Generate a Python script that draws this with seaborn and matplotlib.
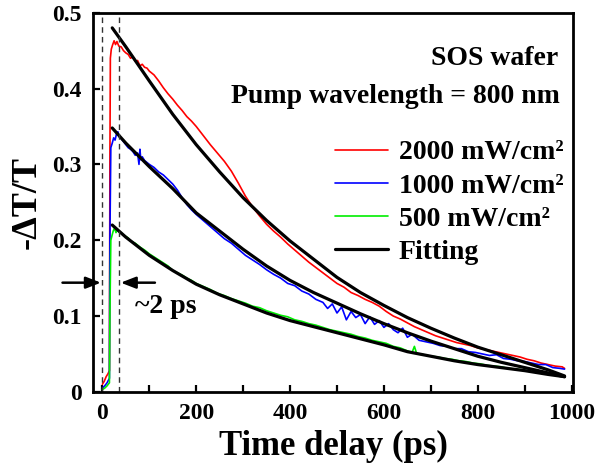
import numpy as np
import pandas as pd
import seaborn as sns
import matplotlib.pyplot as plt
from matplotlib.ticker import MultipleLocator

t_red = [0, 4, 8, 12, 15, 16, 17, 19, 22, 25, 28, 31, 35, 40, 45, 50, 55, 60, 65, 70, 75, 80,
         85, 90, 95, 100, 110, 120, 130, 140, 150, 160, 170, 180, 190, 200, 215, 230, 245,
         260, 275, 290, 305, 320, 335, 350, 365, 380, 395, 410, 425, 440, 455, 470, 485, 500,
         515, 530, 545, 560, 575, 590, 605, 620, 635, 650, 665, 680, 695, 710, 725, 740, 755,
         770, 785, 800, 815, 830, 845, 860, 875, 890, 905, 920, 935, 950, 965, 980, 985]
v_red = [0.010, 0.014, 0.020, 0.024, 0.028, 0.300, 0.440, 0.452, 0.458, 0.463, 0.458, 0.462,
         0.456, 0.455, 0.450, 0.447, 0.445, 0.440, 0.442, 0.436, 0.437, 0.430, 0.432, 0.428,
         0.427, 0.423, 0.418, 0.410, 0.401, 0.393, 0.386, 0.378, 0.371, 0.363, 0.357, 0.350,
         0.338, 0.326, 0.315, 0.304, 0.291, 0.275, 0.258, 0.244, 0.232, 0.221, 0.212, 0.204,
         0.195, 0.187, 0.179, 0.171, 0.164, 0.157, 0.150, 0.143, 0.138, 0.131, 0.127, 0.122,
         0.118, 0.113, 0.106, 0.100, 0.096, 0.091, 0.086, 0.082, 0.078, 0.074, 0.071, 0.068,
         0.065, 0.063, 0.061, 0.058, 0.056, 0.054, 0.052, 0.050, 0.048, 0.046, 0.043, 0.041,
         0.038, 0.036, 0.034, 0.033, 0.031]

t_blue = [0, 5, 10, 15, 16, 18, 21, 24, 27, 30, 33, 36, 40, 45, 50, 55, 60, 65, 70, 75, 78,
          80, 82, 85, 90, 100, 110, 120, 130, 140, 150, 160, 170, 180, 190, 200, 215, 230,
          245, 260, 275, 290, 305, 320, 335, 350, 365, 380, 395, 410, 425, 440, 455, 470,
          480, 490, 500, 510, 520, 530, 540, 550, 560, 570, 580, 590, 600, 610, 620, 630,
          640, 650, 660, 675, 690, 705, 720, 735, 750, 765, 780, 795, 810, 825, 840, 855,
          870, 885, 900, 915, 930, 945, 960, 975, 985]
v_blue = [0.005, 0.008, 0.012, 0.018, 0.200, 0.322, 0.328, 0.335, 0.332, 0.340, 0.343, 0.336,
          0.334, 0.330, 0.326, 0.322, 0.320, 0.317, 0.312, 0.315, 0.300, 0.320, 0.306, 0.310,
          0.305, 0.300, 0.296, 0.290, 0.286, 0.280, 0.274, 0.266, 0.256, 0.247, 0.240, 0.234,
          0.226, 0.218, 0.210, 0.202, 0.196, 0.188, 0.180, 0.174, 0.168, 0.161, 0.155, 0.150,
          0.143, 0.140, 0.133, 0.129, 0.122, 0.118, 0.110, 0.116, 0.104, 0.112, 0.095, 0.106,
          0.098, 0.102, 0.090, 0.099, 0.089, 0.094, 0.085, 0.090, 0.082, 0.078, 0.084, 0.072,
          0.076, 0.068, 0.066, 0.064, 0.061, 0.060, 0.057, 0.057, 0.053, 0.052, 0.050, 0.048,
          0.049, 0.044, 0.043, 0.041, 0.040, 0.038, 0.036, 0.036, 0.032, 0.031, 0.030]

t_green = [0, 5, 10, 15, 16, 18, 20, 23, 26, 29, 32, 35, 40, 45, 50, 55, 60, 70, 80, 90, 100,
           110, 120, 130, 140, 150, 160, 170, 180, 190, 200, 215, 230, 245, 260, 275, 290,
           305, 320, 335, 350, 365, 380, 395, 410, 425, 440, 455, 470, 485, 500, 515, 530,
           545, 560, 575, 590, 605, 620, 635, 650, 660, 665, 670, 685, 700, 715, 730, 745,
           760, 775, 790, 805, 820, 835, 850, 865, 880, 895, 910, 925, 940, 955]
v_green = [0.003, 0.005, 0.008, 0.012, 0.100, 0.200, 0.205, 0.212, 0.216, 0.210, 0.214, 0.211,
           0.210, 0.207, 0.205, 0.203, 0.199, 0.196, 0.191, 0.187, 0.182, 0.178, 0.174, 0.170,
           0.166, 0.160, 0.157, 0.154, 0.150, 0.147, 0.143, 0.139, 0.135, 0.130, 0.127, 0.123,
           0.120, 0.117, 0.113, 0.111, 0.107, 0.104, 0.101, 0.099, 0.095, 0.093, 0.090, 0.088,
           0.085, 0.082, 0.080, 0.078, 0.076, 0.073, 0.071, 0.068, 0.066, 0.064, 0.060, 0.058,
           0.054, 0.052, 0.060, 0.050, 0.049, 0.047, 0.046, 0.044, 0.043, 0.041, 0.040, 0.038,
           0.037, 0.035, 0.034, 0.033, 0.031, 0.030, 0.029, 0.027, 0.026, 0.025, 0.024]

# fitted curves
t_fit = [21, 50, 100, 150, 200, 250, 300, 350, 400, 450, 500, 550, 600, 650, 700, 750, 800,
         850, 900, 950, 985]
fit_red = [0.480, 0.455, 0.410, 0.366, 0.326, 0.290, 0.256, 0.226, 0.199, 0.175, 0.151, 0.131,
           0.114, 0.098, 0.084, 0.071, 0.059, 0.049, 0.039, 0.029, 0.021]
fit_blue = [0.348, 0.328, 0.297, 0.268, 0.236, 0.212, 0.188, 0.166, 0.147, 0.131, 0.117, 0.103,
            0.090, 0.078, 0.067, 0.057, 0.047, 0.039, 0.032, 0.025, 0.020]
fit_green = [0.220, 0.204, 0.180, 0.160, 0.142, 0.128, 0.116, 0.104, 0.094, 0.086, 0.078, 0.070,
             0.062, 0.053, 0.047, 0.041, 0.036, 0.032, 0.028, 0.023, 0.020]

labels = ["2000 mW/cm²", "1000 mW/cm²", "500 mW/cm²"]
colors = ["#ff0000", "#0000ff", "#00ee00"]
pulse_marks = [0, 36]

sns.set_style("ticks")
plt.rcParams['font.family'] = ['Liberation Serif', 'DejaVu Serif']
plt.rcParams['font.weight'] = 'bold'
plt.rcParams['text.color'] = 'black'
plt.rcParams['axes.labelcolor'] = 'black'
plt.rcParams['axes.edgecolor'] = 'black'
plt.rcParams['xtick.color'] = 'black'
plt.rcParams['ytick.color'] = 'black'

fig = plt.figure(figsize=(6, 4.71), dpi=100)
ax = fig.add_axes([0.155, 0.168, 0.8, 0.805])

series = [(t_red, v_red), (t_blue, v_blue), (t_green, v_green)]
for (t, v), lab, c in zip(series, labels, colors):
    sns.lineplot(x=t, y=v, color=c, lw=1.2, label=lab, ax=ax,
                 estimator=None, sort=False)

for i, f in enumerate([fit_red, fit_blue, fit_green]):
    sns.lineplot(x=t_fit, y=f, color='black', lw=2.3,
                 label="Fitting" if i == 0 else None, ax=ax, estimator=None)

for x0 in pulse_marks:
    ax.axvline(x0, color='#333333', lw=1.0, ls=(0, (4, 3)))

arrow = dict(arrowstyle='-|>,head_length=0.9,head_width=0.35', lw=1.8, color='black',
             shrinkA=0, shrinkB=0)
ax.annotate('', xy=(-3, 0.144), xytext=(-85, 0.144), arrowprops=arrow, annotation_clip=False)
ax.annotate('', xy=(39, 0.144), xytext=(112, 0.144), arrowprops=arrow, annotation_clip=False)
ax.text(70, 0.104, "~2 ps", fontsize=20, fontweight='bold', ha='left', va='baseline')

ax.text(0.969, 0.863, "SOS wafer", transform=ax.transAxes, fontsize=20,
        fontweight='bold', ha='right', va='baseline')
ax.text(0.973, 0.762, "Pump wavelength = 800 nm", transform=ax.transAxes, fontsize=20,
        fontweight='bold', ha='right', va='baseline')

ax.set_xlim(-20, 1003)
ax.set_ylim(0, 0.5)
ax.xaxis.set_major_locator(MultipleLocator(200))
ax.xaxis.set_minor_locator(MultipleLocator(100))
yt = [0, 0.1, 0.2, 0.3, 0.4, 0.5]
ax.set_yticks(yt)
ax.set_yticklabels(["0", "0.1", "0.2", "0.3", "0.4", "0.5"])
ax.tick_params(which='both', direction='in', length=5, width=1.6, labelsize=17, pad=8,
               top=False, right=False)
for lab in ax.get_xticklabels() + ax.get_yticklabels():
    lab.set_fontweight('bold')
for s in ax.spines.values():
    s.set_linewidth(2.0)
    s.set_visible(True)

ax.set_xlabel("Time delay (ps)", fontsize=25, fontweight='bold', labelpad=4)
ax.set_ylabel("-ΔT/T", fontsize=26, fontweight='bold', labelpad=6)

leg = ax.legend(loc='upper left', bbox_to_anchor=(0.558, 0.703),
                bbox_transform=fig.transFigure, frameon=False, fontsize=20,
                handlelength=1.9, handletextpad=0.4, labelspacing=0.28,
                borderpad=0, borderaxespad=0)
for txt in leg.get_texts():
    txt.set_fontweight('bold')

fig.savefig("out.png", dpi=100)
